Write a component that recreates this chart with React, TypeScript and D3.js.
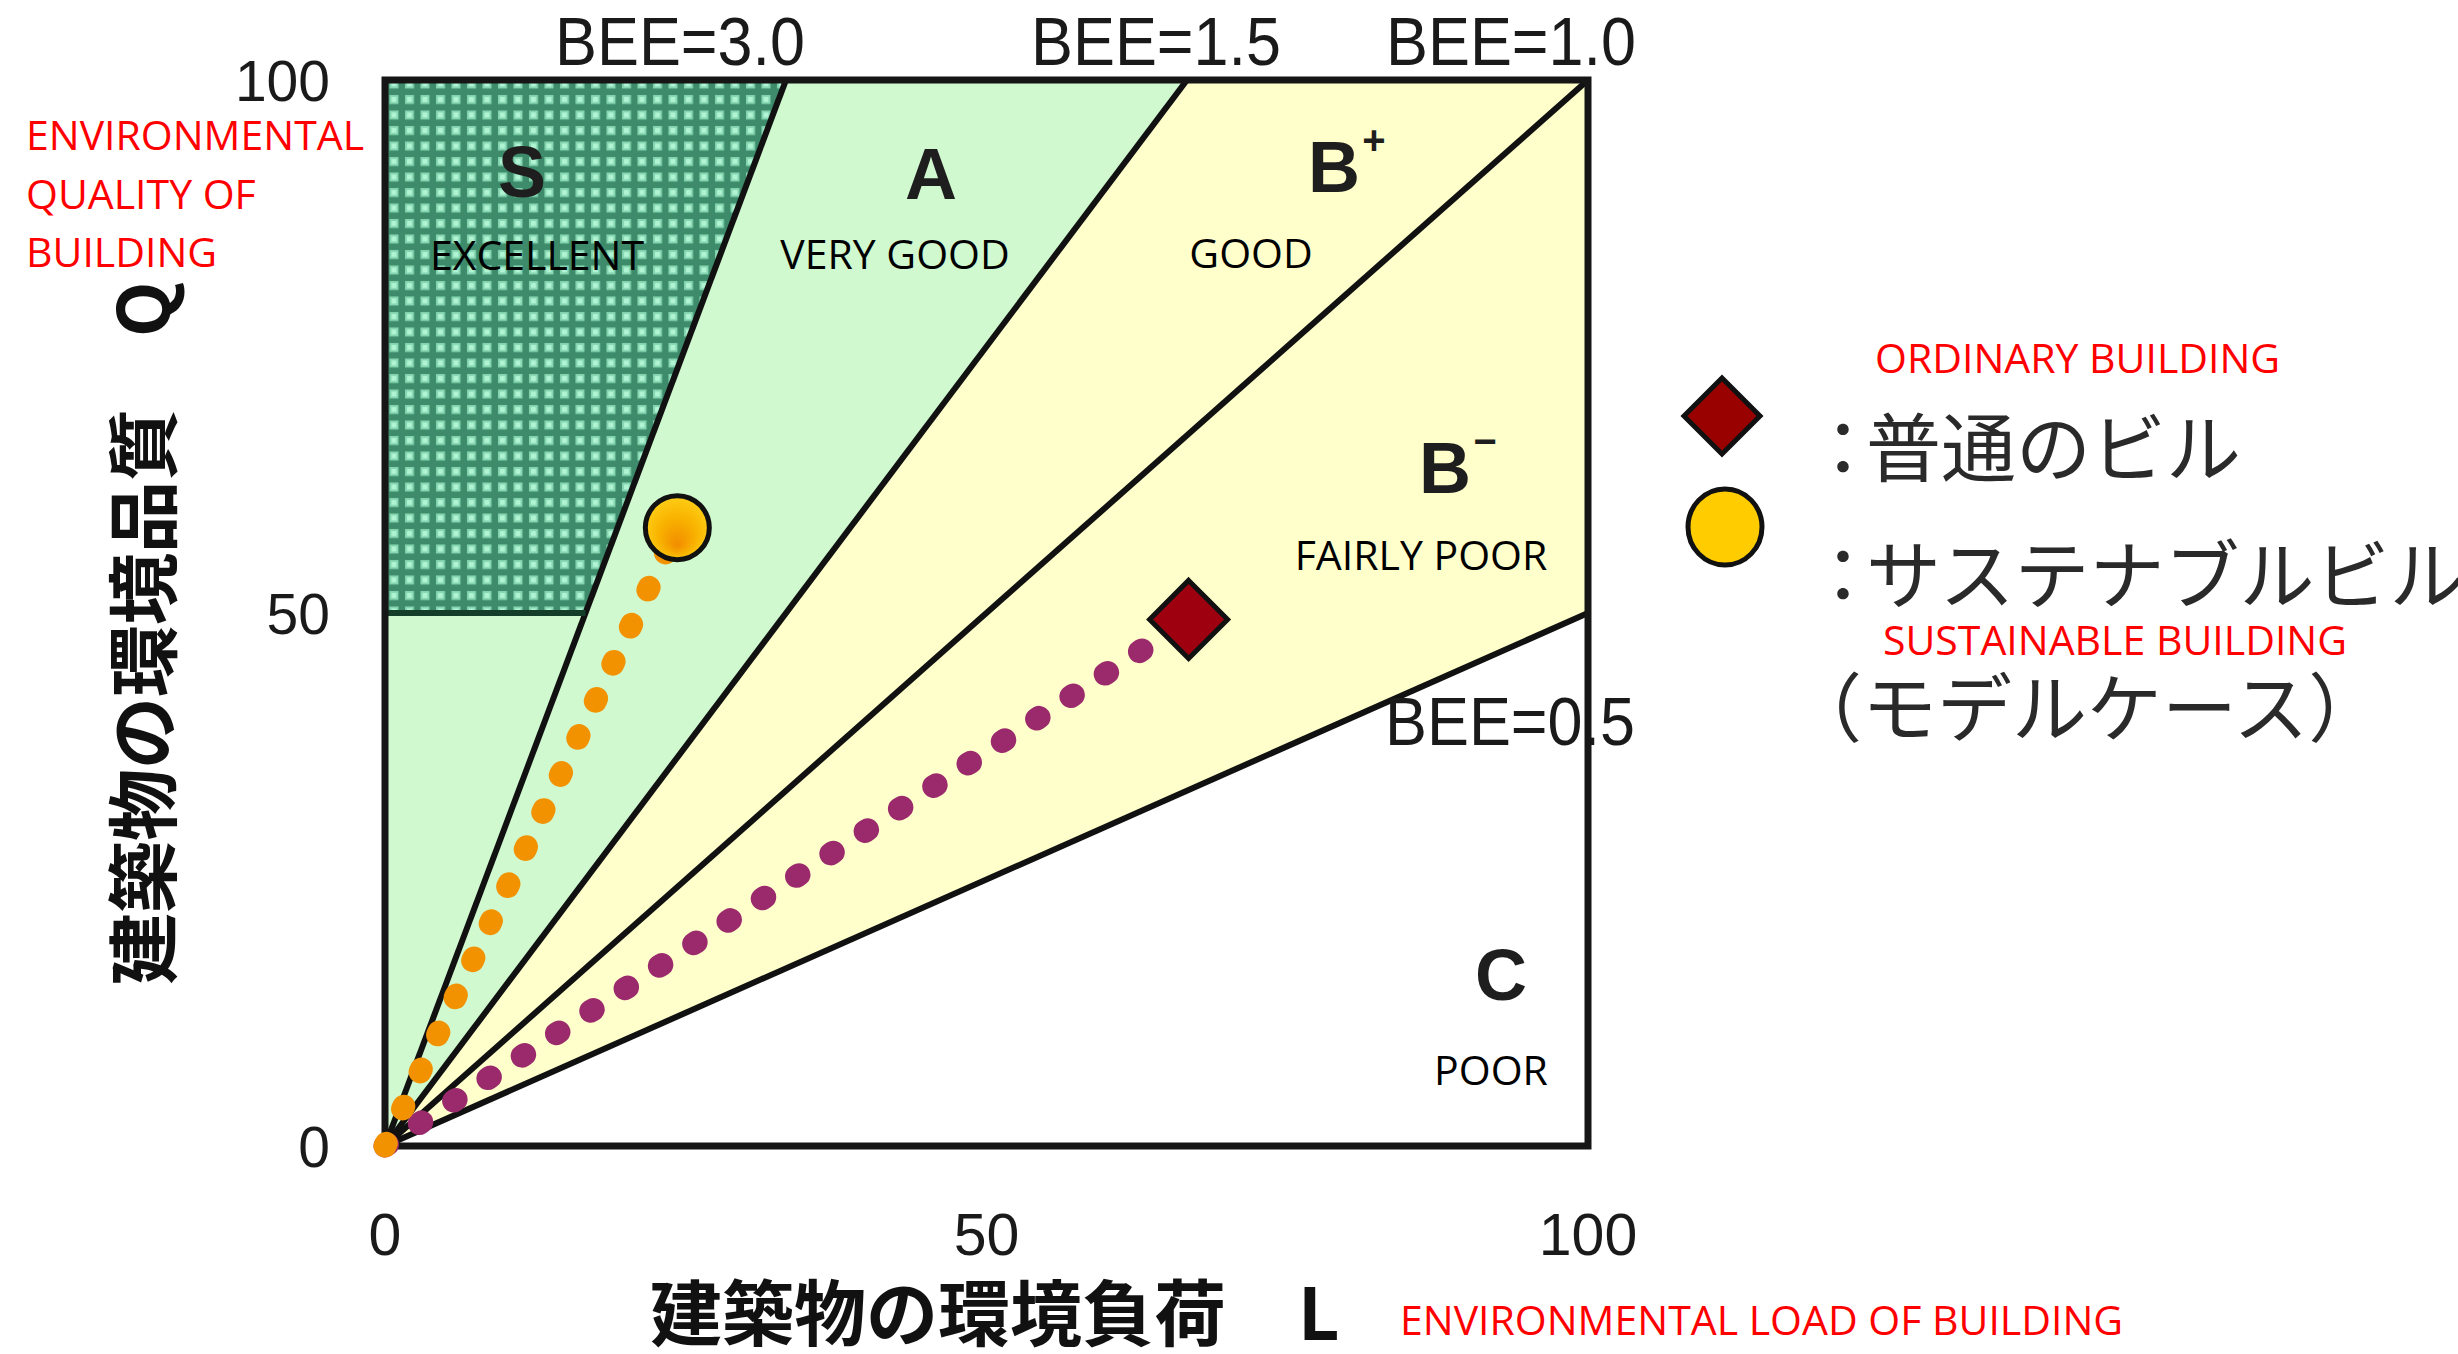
import React from 'react';
import * as d3 from 'd3';

const W = 2458;
const H = 1354;

// ---- data ----
const beeValues = [3.0, 1.5, 1.0, 0.5];
const beeLabels = ['BEE=3.0', 'BEE=1.5', 'BEE=1.0', 'BEE=0.5'];
const axisTicks = [0, 50, 100];
const rankLetters = ['S', 'A', 'B', 'B', 'C'];
const rankMarks = ['', '', '+', '−', ''];
const rankEnglish = ['EXCELLENT', 'VERY GOOD', 'GOOD', 'FAIRLY POOR', 'POOR'];
const sQualityFloor = 50;
const buildingNames = ['普通のビル', 'サステナブルビル'];
const buildingNote = ['', '（モデルケース）'];
const buildingEnglish = ['ORDINARY BUILDING', 'SUSTAINABLE BUILDING'];
const buildingL = [66.8, 24.3];
const buildingQ = [49.4, 58.0];
const yTitle = '建築物の環境品質　Q';
const xTitle = '建築物の環境負荷　L';
const yTitleEnglish = ['ENVIRONMENTAL', 'QUALITY OF', 'BUILDING'];
const xTitleEnglish = 'ENVIRONMENTAL LOAD OF BUILDING';

// ---- layout (pixels) ----
const PLOT = { left: 385, right: 1588, top: 80, bottom: 1146 };
const beeLabelPos = [
  { x: 680, y: 65 },
  { x: 1156, y: 65 },
  { x: 1511, y: 65 },
  { x: 1510, y: 745 },
];
const rankPos = [
  { x: 522, y: 197 },
  { x: 931, y: 199 },
  { x: 1334, y: 192 },
  { x: 1445, y: 493 },
  { x: 1501, y: 1000 },
];
const rankEnPos = [
  { x: 537, y: 270 },
  { x: 895, y: 269 },
  { x: 1251, y: 268 },
  { x: 1421, y: 570 },
  { x: 1491, y: 1085 },
];

const EN_FONT = "'Open Sans', 'Noto Sans', sans-serif";
const NUM_FONT = "'Liberation Sans Narrow', 'Liberation Sans', Arial, sans-serif";
const JP_FONT = "'Noto Sans CJK JP', 'Noto Sans CJK SC', sans-serif";

export default function App() {
  const x = d3.scaleLinear().domain([0, 100]).range([PLOT.left, PLOT.right]);
  const y = d3.scaleLinear().domain([0, 100]).range([PLOT.bottom, PLOT.top]);
  const line = d3
    .line<[number, number]>()
    .x((d) => x(d[0]))
    .y((d) => y(d[1]));
  const beeEnd = (b: number): [number, number] => [Math.min(100, 100 / b), Math.min(100, 100 * b)];

  const greenPoly: [number, number][] = [[0, 0], beeEnd(beeValues[1]), [0, 100]];
  const yellowPoly: [number, number][] = [[0, 0], beeEnd(beeValues[3]), [100, 100], beeEnd(beeValues[1])];
  const sPoly: [number, number][] = [
    [0, sQualityFloor],
    [sQualityFloor / beeValues[0], sQualityFloor],
    beeEnd(beeValues[0]),
    [0, 100],
  ];

  const diamond = (cx: number, cy: number, r: number) =>
    `M${cx},${cy - r}L${cx + r},${cy}L${cx},${cy + r}L${cx - r},${cy}Z`;

  const dotColors = ['#9b2a6c', '#f39200'];

  return (
    <svg
      width={W}
      height={H}
      viewBox={`0 0 ${W} ${H}`}
      style={{ position: 'absolute', left: 0, top: 0, background: '#fff' }}
    >
      <defs>
        <pattern id="sdots" width={15.5} height={15.5} patternUnits="userSpaceOnUse">
          <rect width={15.5} height={15.5} fill="#3d8b6b" />
          <rect x={2} y={2} width={9} height={9} fill="#86d6b2" />
          <rect x={4} y={4} width={5} height={5} fill="#b0f4d4" />
        </pattern>
        <radialGradient id="sunGrad" cx="50%" cy="50%" r="55%" fx="50%" fy="78%">
          <stop offset="0%" stopColor="#f28c00" />
          <stop offset="55%" stopColor="#f9b400" />
          <stop offset="100%" stopColor="#ffd21a" />
        </radialGradient>
      </defs>

      {/* regions */}
      <path d={line(greenPoly) + 'Z'} fill="#d0f9d0" />
      <path d={line(yellowPoly) + 'Z'} fill="#ffffcc" />
      <path d={line(sPoly) + 'Z'} fill="url(#sdots)" />

      {/* BEE lines */}
      {beeValues.map((b, i) => (
        <path key={'bee' + i} d={line([[0, 0], beeEnd(b)]) as string} stroke="#111" strokeWidth={6} fill="none" />
      ))}
      <path
        d={line([[0, sQualityFloor], [sQualityFloor / beeValues[0], sQualityFloor]]) as string}
        stroke="#143d2a"
        strokeWidth={6}
        fill="none"
      />

      {/* BEE labels */}
      {beeLabels.map((t, i) => (
        <text
          key={'bl' + i}
          x={beeLabelPos[i].x}
          y={beeLabelPos[i].y}
          textAnchor="middle"
          fontFamily={NUM_FONT}
          fontSize={68}
          fill="#1a1a1a"
          textLength={250}
          lengthAdjust="spacingAndGlyphs"
        >
          {t}
        </text>
      ))}

      {/* rank letters */}
      {rankLetters.map((t, i) => (
        <g key={'rk' + i}>
          <text
            x={rankPos[i].x}
            y={rankPos[i].y}
            textAnchor="middle"
            fontFamily={NUM_FONT}
            fontWeight={700}
            fontSize={72}
            fill="#1e1e1e"
          >
            {t}
          </text>
          {rankMarks[i] && (
            <text
              x={rankPos[i].x + 40}
              y={rankPos[i].y - 38}
              textAnchor="middle"
              fontFamily={NUM_FONT}
              fontWeight={700}
              fontSize={40}
              fill="#1e1e1e"
            >
              {rankMarks[i]}
            </text>
          )}
          <text
            x={rankEnPos[i].x}
            y={rankEnPos[i].y}
            textAnchor="middle"
            fontFamily={EN_FONT}
            fontSize={41}
            fill="#000"
          >
            {rankEnglish[i]}
          </text>
        </g>
      ))}

      {/* frame */}
      <rect
        x={PLOT.left}
        y={PLOT.top}
        width={PLOT.right - PLOT.left}
        height={PLOT.bottom - PLOT.top}
        fill="none"
        stroke="#161616"
        strokeWidth={7}
      />

      {/* ticks */}
      {axisTicks.map((t) => (
        <text
          key={'yt' + t}
          x={330}
          y={y(t) + 21}
          textAnchor="end"
          fontFamily={NUM_FONT}
          fontSize={57}
          fill="#1a1a1a"
        >
          {t}
        </text>
      ))}
      {axisTicks.map((t) => (
        <text
          key={'xt' + t}
          x={x(t)}
          y={1255}
          textAnchor="middle"
          fontFamily={NUM_FONT}
          fontSize={59}
          fill="#1a1a1a"
        >
          {t}
        </text>
      ))}

      {/* axis titles */}
      <text x={650} y={1340} fontFamily={JP_FONT} fontWeight={700} fontSize={72} fill="#111">
        {xTitle}
      </text>
      <text
        transform={`translate(170, 985) rotate(-90)`}
        x={0}
        y={0}
        fontFamily={JP_FONT}
        fontWeight={700}
        fontSize={72}
        fill="#111"
      >
        {yTitle}
      </text>

      {/* red English captions */}
      {yTitleEnglish.map((t, i) => (
        <text key={'yen' + i} x={26} y={150 + i * 58.5} fontFamily={EN_FONT} fontSize={41} fill="#ff0000">
          {t}
        </text>
      ))}
      <text x={1400} y={1335} fontFamily={EN_FONT} fontSize={41} fill="#ff0000">
        {xTitleEnglish}
      </text>
      <text x={1875} y={373} fontFamily={EN_FONT} fontSize={41} fill="#ff0000">
        {buildingEnglish[0]}
      </text>
      <text x={1883} y={655} fontFamily={EN_FONT} fontSize={41} fill="#ff0000">
        {buildingEnglish[1]}
      </text>

      {/* dotted tracks from origin */}
      {buildingL.map((L, i) => (
        <path
          key={'trk' + i}
          d={line([[0, 0], [L, buildingQ[i]]]) as string}
          stroke={dotColors[i]}
          strokeWidth={23}
          strokeLinecap="round"
          strokeDasharray="3 38"
          fill="none"
        />
      ))}

      {/* building markers */}
      <path d={diamond(x(buildingL[0]), y(buildingQ[0]), 39)} fill="#9e0010" stroke="#111" strokeWidth={5} />
      <circle cx={x(buildingL[1])} cy={y(buildingQ[1])} r={32} fill="url(#sunGrad)" stroke="#111" strokeWidth={5} />

      {/* legend */}
      <path d={diamond(1722, 416, 38)} fill="#990000" stroke="#111" strokeWidth={5} />
      <ellipse cx={1725} cy={527} rx={37} ry={38} fill="#ffcc00" stroke="#111" strokeWidth={5} />
      <text x={1843} y={476} textAnchor="middle" fontFamily={JP_FONT} fontSize={75} fill="#2a2a2a">
        ：
      </text>
      <text x={1866} y={476} fontFamily={JP_FONT} fontSize={75} fill="#2a2a2a">
        {buildingNames[0]}
      </text>
      <text x={1843} y={603} textAnchor="middle" fontFamily={JP_FONT} fontSize={75} fill="#2a2a2a">
        ：
      </text>
      <text x={1866} y={603} fontFamily={JP_FONT} fontSize={75} fill="#2a2a2a">
        {buildingNames[1]}
      </text>
      <text x={1787} y={736} fontFamily={JP_FONT} fontSize={75} fill="#2a2a2a">
        {buildingNote[1]}
      </text>
    </svg>
  );
}
